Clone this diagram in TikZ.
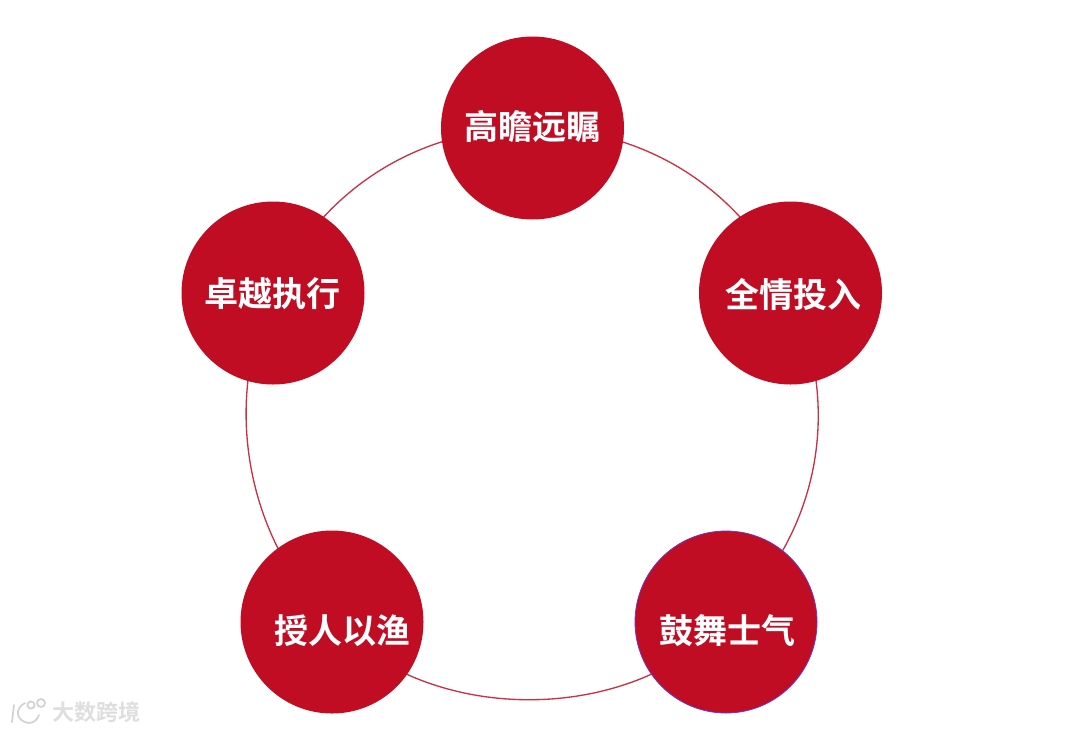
\documentclass[tikz,border=0pt]{standalone}
\usepackage{fontspec}
\setmainfont{Noto Sans CJK SC}[BoldFont={* Bold}]
\usetikzlibrary{backgrounds}
\definecolor{disc}{HTML}{C00D23}
\definecolor{wmtext}{HTML}{DEDEDE}
\definecolor{wmline}{HTML}{D2D2D2}
\tikzset{
  x=0.75pt,y=-0.75pt,
  disc/.style={circle,fill=disc,minimum size=137.25pt,inner sep=0pt},
  disctext/.style={text=white,font=\fontsize{25.5pt}{25.5pt}\selectfont\bfseries,inner sep=0pt},
  linkarc/.style={draw=disc!85!white,line width=1pt},
  wm/.style={text=wmtext,font=\fontsize{16.5pt}{16.5pt}\selectfont\bfseries,inner sep=0pt},
  wmlogo/.style={draw=wmline,line width=1.3pt,line cap=round}
}
\begin{document}
\begin{tikzpicture}
\useasboundingbox (0,0) rectangle (1080,732);
\node[disc] (top) at (532.5,128) {};
\node[disc] (right) at (790.5,293) {};
\node[disc,draw=violet!60!blue!80!white,line width=0.6pt,minimum size=136.5pt] (br) at (726,622) {};
\node[disc] (bl) at (332,622) {};
\node[disc] (left) at (273,293) {};
\node[disctext] (ttop) at (532.5,126) {高瞻远瞩};
\node[disctext] (tright) at (793.5,294) {全情投入};
\node[disctext] (tbr) at (727,631) {鼓舞士气};
\node[disctext] (tbl) at (342,631) {授人以渔};
\node[disctext] (tleft) at (272,294) {卓越执行};
\begin{scope}[on background layer]
  \draw[linkarc] (top.center) to[bend left=32.5,looseness=0.95] (right.center);
  \draw[linkarc] (right.center) to[bend left=36,looseness=0.97] (br.center);
  \draw[linkarc] (br.center) to[bend left=46.5,looseness=0.93] (bl.center);
  \draw[linkarc] (bl.center) to[bend left=36,looseness=0.91] (left.center);
  \draw[linkarc] (left.center) to[bend left=32.5,looseness=0.95] (top.center);
\end{scope}
\draw[wmlogo] (14,705) -- (12,722);
\draw[wmlogo] (25,703) .. controls (15,708) and (15,720) .. (28,723) .. controls (34,723) and (37,720) .. (39,715);
\draw[wmlogo] (31,705) circle[radius=3.6];
\draw[wmlogo] (41,703) circle[radius=4];
\node[wm,anchor=west] (mark) at (52,712.5) {大数跨境};
\end{tikzpicture}
\end{document}
